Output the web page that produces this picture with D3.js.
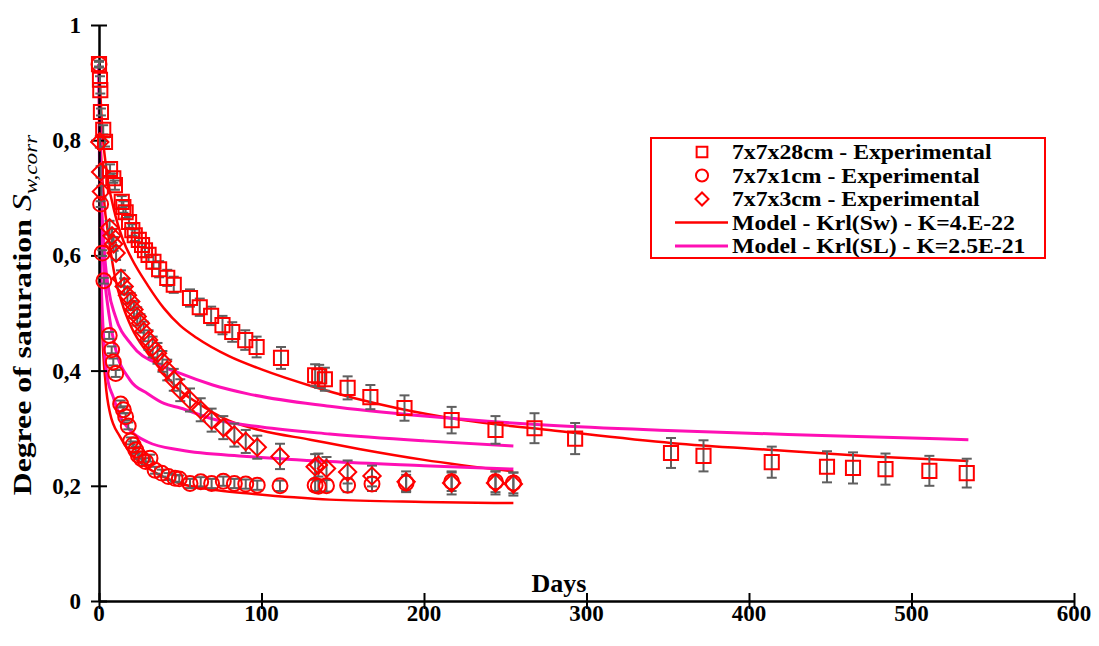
<!DOCTYPE html>
<html><head><meta charset="utf-8">
<script src="https://cdn.jsdelivr.net/npm/d3@7/dist/d3.min.js"></script>
<style>body{margin:0;background:#fff;} text{font-family:'Liberation Serif','Tinos','DejaVu Serif',serif;}</style>
</head><body>
<svg id="c" width="1099" height="646"></svg>
<script>
// ---- Data ----
const xTicks = [0,100,200,300,400,500,600];
const yTicks = [0,0.2,0.4,0.6,0.8,1];
const yTickLabels = ["0","0,2","0,4","0,6","0,8","1"];

const legendLabels = ["7x7x28cm - Experimental","7x7x1cm - Experimental","7x7x3cm - Experimental","Model - Krl(Sw) - K=4.E-22","Model - Krl(SL) - K=2.5E-21"];

const sqDays = [0,0.6,0.8,1.2,2.6,3.7,6.8,8.8,9.8,14,15,16.4,18.5,20.5,22,24.5,26.5,28.3,30.5,33.5,37,42,46,56,62,69,76,82,90,97,112,133,135.5,139,153,167,188,217,244,268,293,352,372,414,448,464,484,511,534];
const sqVals = [0.932,0.905,0.887,0.849,0.818,0.797,0.75,0.734,0.722,0.693,0.684,0.675,0.658,0.644,0.635,0.627,0.618,0.609,0.601,0.589,0.576,0.561,0.549,0.526,0.51,0.495,0.479,0.467,0.453,0.441,0.422,0.392,0.39,0.385,0.37,0.354,0.335,0.314,0.297,0.3,0.282,0.257,0.252,0.241,0.233,0.231,0.229,0.226,0.222];
const sqErr = [0.006,0.006,0.006,0.006,0.008,0.008,0.008,0.008,0.008,0.01,0.01,0.01,0.01,0.01,0.01,0.012,0.012,0.012,0.012,0.012,0.014,0.014,0.014,0.015,0.015,0.016,0.016,0.017,0.017,0.018,0.019,0.019,0.02,0.02,0.02,0.021,0.022,0.023,0.024,0.026,0.027,0.026,0.027,0.027,0.027,0.027,0.027,0.026,0.025];

const ciDays = [0,1,2,3,6.3,7.8,8.8,10.3,13.3,15,16.4,18,19.5,21,22.6,24.2,26.2,28.7,31.4,34.5,38.6,42.7,46.8,49.4,56,62.6,69.3,76.5,83.3,90.3,97.4,111.4,133,135,140,153,168,189,217,244,255];
const ciVals = [0.932,0.689,0.604,0.556,0.461,0.436,0.415,0.395,0.342,0.332,0.32,0.304,0.278,0.271,0.262,0.253,0.247,0.242,0.248,0.227,0.222,0.216,0.213,0.212,0.204,0.207,0.204,0.208,0.204,0.203,0.201,0.2,0.201,0.199,0.2,0.201,0.203,0.205,0.207,0.207,0.205];
const ciErr = [0.004,0.005,0.005,0.005,0.006,0.006,0.006,0.006,0.006,0.006,0.006,0.006,0.006,0.006,0.006,0.006,0.006,0.006,0.006,0.006,0.006,0.006,0.006,0.006,0.008,0.008,0.008,0.008,0.008,0.008,0.008,0.009,0.01,0.01,0.01,0.012,0.012,0.014,0.016,0.018,0.018];

const diDays = [0.5,1,1.5,6.5,8,9,10.5,13.5,15.5,17.5,19.5,21.5,23.5,25.5,27.5,30.5,33,36,39,42,46,50,56,62.6,69.3,76.5,83.3,90.3,97.4,111.4,133,135,140,153,168,189,217,244,255];
const diVals = [0.797,0.745,0.711,0.648,0.634,0.62,0.604,0.56,0.546,0.531,0.52,0.506,0.494,0.482,0.468,0.453,0.441,0.43,0.416,0.401,0.384,0.366,0.349,0.332,0.314,0.301,0.288,0.277,0.267,0.251,0.233,0.236,0.23,0.224,0.217,0.207,0.205,0.205,0.203];
const diErr = [0.01,0.01,0.01,0.012,0.012,0.012,0.012,0.014,0.014,0.015,0.015,0.015,0.016,0.016,0.017,0.017,0.018,0.018,0.018,0.018,0.019,0.019,0.02,0.02,0.02,0.02,0.02,0.02,0.02,0.022,0.022,0.02,0.02,0.02,0.018,0.018,0.02,0.02,0.02];

// Model curves: red = Krl(Sw), magenta = Krl(SL)
const mSw28Days = [0,2,5,10,15,20,30,40,50,60,80,100,132,183,224,277,353,415,476,535];
const mSw28Vals = [0.932,0.82,0.74,0.67,0.625,0.595,0.548,0.508,0.478,0.457,0.425,0.402,0.372,0.335,0.314,0.297,0.274,0.262,0.251,0.243];
const mSL28Days = [0,1,3,6,10,20,37.5,50,70,91,142,200,277,350,450,535];
const mSL28Vals = [0.932,0.75,0.62,0.54,0.495,0.445,0.41,0.395,0.375,0.36,0.338,0.321,0.305,0.296,0.287,0.28];
const mSw3Days = [0,1,3,6,10,15,20,30,40,50,60,80,100,130,160,200,255];
const mSw3Vals = [0.932,0.8,0.7,0.63,0.56,0.51,0.475,0.43,0.395,0.365,0.345,0.313,0.296,0.28,0.264,0.245,0.225];
const mSL3Days = [0,0.5,1,3,6,10,19,30,40,50,70,100,142,200,255];
const mSL3Vals = [0.932,0.78,0.7,0.58,0.5,0.44,0.384,0.36,0.343,0.335,0.316,0.302,0.29,0.278,0.269];
const mSw1Days = [0,0.3,1,2,4,6.8,13,20,29,40,50,70,91,120,142,200,255];
const mSw1Vals = [0.932,0.75,0.58,0.47,0.38,0.326,0.285,0.255,0.233,0.215,0.204,0.193,0.187,0.18,0.176,0.172,0.17];
const mSL1Days = [0,0.3,1,3,5,8.8,13,19,30,50,91,142,200,255];
const mSL1Vals = [0.932,0.75,0.6,0.45,0.39,0.354,0.32,0.297,0.276,0.262,0.251,0.242,0.235,0.229];

// ---- Drawing ----
const FONT = "'Liberation Serif','Tinos','DejaVu Serif',serif";
const RED = "#ff0000", MAG = "#ff0fb4", GREY = "#5f5f5f";
const svg = d3.select("#c");
const x = d3.scaleLinear().domain([0,600]).range([99,1074]);
const y = d3.scaleLinear().domain([0,1]).range([601,25]);
const zip = (a,b,e) => a.map((d,i)=>({d:d, v:b[i], e: e? e[i] : 0}));

const line = d3.line().x(p=>x(p.d)).y(p=>y(p.v)).curve(d3.curveMonotoneX);
const models = [
  [mSw28Days,mSw28Vals,RED,2.5],[mSw3Days,mSw3Vals,RED,2.5],[mSw1Days,mSw1Vals,RED,2.5],
  [mSL28Days,mSL28Vals,MAG,3],[mSL3Days,mSL3Vals,MAG,3],[mSL1Days,mSL1Vals,MAG,3]
];
const gl = svg.append("g");
models.forEach(m=>{
  gl.append("path").datum(zip(m[0],m[1])).attr("d",line)
    .attr("fill","none").attr("stroke",m[2]).attr("stroke-width",m[3]);
});

// axes
const yAxis = d3.axisLeft(y).tickValues(yTicks).tickFormat("").tickSizeInner(8).tickSizeOuter(0);
const gy = svg.append("g").attr("transform","translate(99,0)").call(yAxis);
gy.selectAll(".tick line").attr("x1",8).attr("x2",-8).attr("stroke","#000").attr("stroke-width",2);
gy.select(".domain").attr("stroke","#000").attr("stroke-width",2.5);
const xAxis = d3.axisBottom(x).tickValues(xTicks).tickFormat("").tickSizeInner(8).tickSizeOuter(0);
const gx = svg.append("g").attr("transform","translate(0,601)").call(xAxis);
gx.selectAll(".tick line").attr("y1",-8).attr("y2",8).attr("stroke","#000").attr("stroke-width",2);
gx.select(".domain").attr("stroke","#000").attr("stroke-width",2.5);

svg.append("g").selectAll("text").data(yTicks).join("text")
  .attr("x",81).attr("y",d=>y(d)+8).attr("text-anchor","end").style("font-family",FONT)
  .attr("font-size",23).attr("font-weight","bold").text((d,i)=>yTickLabels[i]);
svg.append("g").selectAll("text").data(xTicks).join("text")
  .attr("x",d=>x(d)).attr("y",621).attr("text-anchor","middle").style("font-family",FONT)
  .attr("font-size",23).attr("font-weight","bold").text(d=>d);

svg.append("text").attr("x",559).attr("y",592).attr("text-anchor","middle").style("font-family",FONT)
  .attr("font-size",26).attr("font-weight","bold").text("Days");

const yt = svg.append("text").attr("transform","translate(31,315) rotate(-90) scale(1.22,1)").style("font-family",FONT)
  .attr("text-anchor","middle").attr("font-size",26);
yt.append("tspan").attr("font-weight","bold").text("Degree of saturation  ");
yt.append("tspan").attr("font-style","italic").attr("font-size",28).text("S");
yt.append("tspan").attr("font-style","italic").attr("font-size",19).attr("dy",6).text("w,corr");

// error bars + markers
function errBars(data){
  const g = svg.append("g").attr("stroke",GREY).attr("stroke-width",2);
  data.forEach(p=>{
    const cx = x(p.d), y1 = y(p.v+p.e), y2 = y(p.v-p.e);
    g.append("line").attr("x1",cx).attr("x2",cx).attr("y1",y1).attr("y2",y2);
    g.append("line").attr("x1",cx-5).attr("x2",cx+5).attr("y1",y1).attr("y2",y1);
    g.append("line").attr("x1",cx-5).attr("x2",cx+5).attr("y1",y2).attr("y2",y2);
  });
}
const sqData = zip(sqDays,sqVals,sqErr), ciData = zip(ciDays,ciVals,ciErr), diData = zip(diDays,diVals,diErr);
errBars(sqData); errBars(ciData); errBars(diData);

function markers(data, type, size, rot){
  svg.append("g").selectAll("path").data(data).join("path")
    .attr("transform",p=>`translate(${x(p.d)},${y(p.v)})` + (rot?` rotate(${rot})`:""))
    .attr("d",d3.symbol().type(type).size(size)).attr("fill","none").attr("stroke",RED).attr("stroke-width",2);
}
markers(diData, d3.symbolSquare, 150, 45);
markers(ciData, d3.symbolCircle, 175, 0);
markers(sqData, d3.symbolSquare, 200, 0);

// legend
const lg = svg.append("g");
lg.append("rect").attr("x",651).attr("y",138).attr("width",394).attr("height",120)
  .attr("fill","#fff").attr("stroke",RED).attr("stroke-width",2);
const rowsY = [152,175.5,199,222.5,246];
legendLabels.forEach((t,i)=>{
  const ry = rowsY[i];
  if(i<3){
    const p = lg.append("path").attr("fill","none").attr("stroke",RED).attr("stroke-width",2);
    if(i===0) p.attr("d", d3.symbol().type(d3.symbolSquare).size(115)()).attr("transform",`translate(702,${ry})`);
    if(i===1) p.attr("d", d3.symbol().type(d3.symbolCircle).size(115)()).attr("transform",`translate(702,${ry})`);
    if(i===2) p.attr("d", d3.symbol().type(d3.symbolSquare).size(85)()).attr("transform",`translate(702,${ry}) rotate(45)`);
  } else {
    lg.append("line").attr("x1",675).attr("x2",728).attr("y1",ry).attr("y2",ry)
      .attr("stroke", i===3?RED:MAG).attr("stroke-width", i===3?2.5:3);
  }
  lg.append("text").attr("transform",`translate(732,${ry+7}) scale(1.13,1)`).style("font-family",FONT)
    .attr("font-size",21).attr("font-weight","bold").text(t);
});
</script>
</body></html>
